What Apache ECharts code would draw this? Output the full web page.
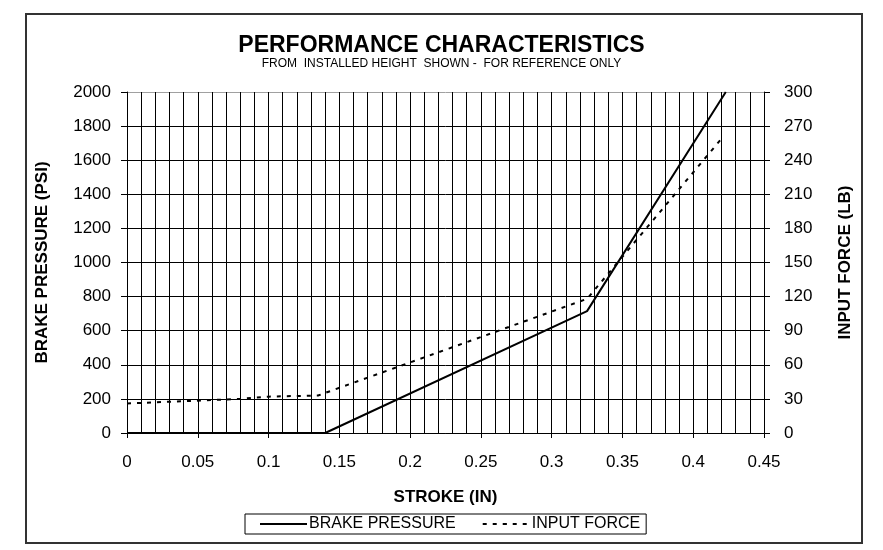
<!DOCTYPE html>
<html>
<head>
<meta charset="utf-8">
<title>Performance Characteristics</title>
<script src="https://cdn.jsdelivr.net/npm/echarts@6/dist/echarts.min.js"></script>
<style>
  html, body { margin: 0; padding: 0; background: #fff; }
  #chart { width: 883px; height: 550px; }
</style>
</head>
<body>
<div id="chart"></div>
<script>
// stroke (in) vs brake pressure (psi), left axis
const brakeStroke = [0, 0.14, 0.325, 0.423]
const brakePressure = [0, 0, 715, 2000]

// stroke (in) vs input force (lb), right axis
const forceStroke = [0, 0.04, 0.08, 0.1, 0.135, 0.325, 0.42]
const inputForce = [26, 28, 30, 32, 33, 118, 259]

const seriesNames = ['BRAKE PRESSURE', 'INPUT FORCE']
const FONT = '"Liberation Sans", Arial, sans-serif'

const chart = echarts.init(document.getElementById('chart'))

const pairs = (xs, ys) => xs.map((x, i) => [x, ys[i]])
const plain = (v) => String(v)

// top split line of the plot is grey, the rest black
const hLineColors = Array(10).fill('#000').concat(['#a0a0a0'])

const nameStyle = { fontFamily: FONT, fontWeight: 'bold', fontSize: 17, color: '#000' }
const labelStyle = { fontFamily: FONT, fontSize: 17, color: '#000' }

const option = {
  backgroundColor: '#fff',
  animation: false,
  title: {
    text: 'PERFORMANCE CHARACTERISTICS',
    subtext: 'FROM  INSTALLED HEIGHT  SHOWN -  FOR REFERENCE ONLY',
    left: 'center',
    top: 29,
    itemGap: 1,
    textStyle: { fontFamily: FONT, fontWeight: 'bold', fontSize: 23, color: '#000' },
    subtextStyle: { fontFamily: FONT, fontSize: 12, color: '#000' },
  },
  graphic: [
    {
      type: 'rect',
      shape: { x: 26, y: 14, width: 836, height: 529 },
      style: { fill: 'none', stroke: '#333', lineWidth: 2 },
      silent: true,
    },
  ],
  legend: {
    data: seriesNames,
    bottom: 16,
    left: 245,
    itemWidth: 47,
    itemHeight: 2,
    itemGap: 26,
    padding: [2, 6, 2, 14],
    borderColor: '#000',
    borderWidth: 1,
    borderRadius: 0,
    textStyle: { fontFamily: FONT, fontSize: 16, color: '#000', padding: [0, 0, 0, -3] },
  },
  grid: { left: 127, right: 119, top: 92, bottom: 117 },
  xAxis: {
    type: 'value',
    min: 0,
    max: 0.45,
    interval: 0.05,
    name: 'STROKE (IN)',
    nameLocation: 'middle',
    nameGap: 56,
    nameTextStyle: nameStyle,
    axisLine: { lineStyle: { color: '#000', width: 1 } },
    axisTick: { show: true, length: 5, lineStyle: { color: '#000' } },
    axisLabel: { ...labelStyle, margin: 21, formatter: plain },
    splitLine: { show: true, lineStyle: { color: '#000', width: 1 } },
    minorSplitLine: { show: true, lineStyle: { color: '#000', width: 1 } },
    minorTick: { show: false, splitNumber: 5 },
  },
  yAxis: [
    {
      type: 'value',
      min: 0,
      max: 2000,
      interval: 200,
      name: 'BRAKE PRESSURE (PSI)',
      nameLocation: 'middle',
      nameGap: 76,
      nameTextStyle: nameStyle,
      axisLine: { show: true, lineStyle: { color: '#000' } },
      axisTick: { show: true, length: 6, lineStyle: { color: '#000' } },
      axisLabel: { ...labelStyle, margin: 16, formatter: plain },
      splitLine: { show: true, lineStyle: { color: hLineColors, width: 1 } },
    },
    {
      type: 'value',
      min: 0,
      max: 300,
      interval: 30,
      name: 'INPUT FORCE (LB)',
      nameLocation: 'middle',
      nameGap: 73,
      nameTextStyle: nameStyle,
      axisLine: { show: true, lineStyle: { color: '#000' } },
      axisTick: { show: true, length: 6, lineStyle: { color: '#000' } },
      axisLabel: { ...labelStyle, margin: 20, formatter: plain },
      splitLine: { show: false },
    },
  ],
  series: [
    {
      name: seriesNames[0],
      type: 'line',
      yAxisIndex: 0,
      symbol: 'none',
      color: '#000',
      lineStyle: { color: '#000', width: 2, type: 'solid' },
      data: pairs(brakeStroke, brakePressure),
      z: 3,
    },
    {
      name: seriesNames[1],
      type: 'line',
      yAxisIndex: 1,
      symbol: 'none',
      color: '#000',
      lineStyle: { color: '#000', width: 2, type: [4, 6] },
      data: pairs(forceStroke, inputForce),
      z: 4,
    },
  ],
}

chart.setOption(option)
</script>
</body>
</html>
